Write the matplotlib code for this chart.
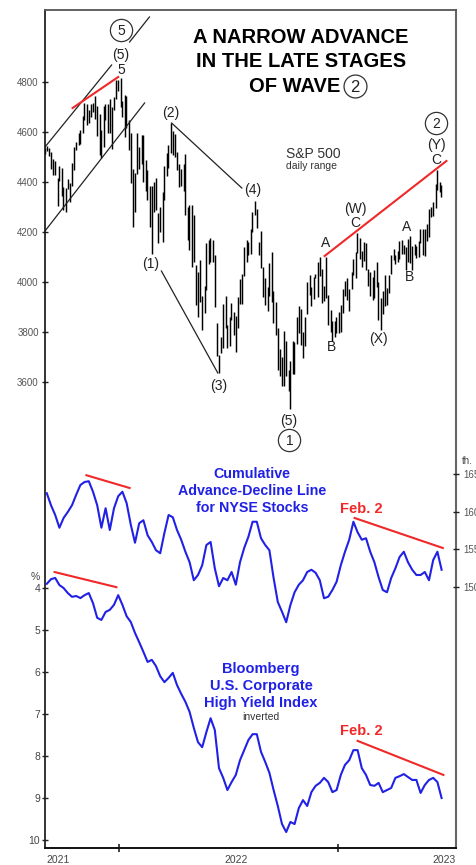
import numpy as np
import pandas as pd
import matplotlib
matplotlib.use('Agg')
import matplotlib.pyplot as plt
from matplotlib.lines import Line2D

plt.rcParams['font.family'] = ['Liberation Sans', 'DejaVu Sans']

# week starts (Mondays), Aug 30 2021 .. Jun 19 2023
weeks = pd.date_range('2021-08-30', '2023-06-19', freq='W-MON')

# S&P 500 daily range, two bars a week: a = Mon-Wed, b = Thu-Fri
spx_hi_a = [4537, 4536, 4492, 4416, 4457, 4375, 4397, 4540, 4598, 4665,
            4714, 4714, 4743, 4672, 4705, 4713, 4700, 4808, 4818, 4749,
            4650, 4453, 4595, 4590, 4490, 4385, 4402, 4277, 4360, 4517,
            4637, 4593, 4471, 4471, 4300, 4308, 4068, 4090, 3985, 4169,
            4168, 3838, 3780, 3946, 3862, 3880, 3941, 4032, 4167, 4213,
            4325, 4160, 4062, 3982, 4119, 3922, 3733, 3806, 3650, 3763,
            3862, 3894, 3860, 4028, 4020, 4080, 4052, 4101, 3890, 3846,
            3879, 3973, 4015, 4039, 4121, 4176, 4161, 4051, 4019, 4079,
            3937, 4027, 4030, 4134, 4125, 4169, 4140, 4186, 4153, 4166,
            4212, 4231, 4300, 4391, 4400]
spx_lo_a = [4513, 4506, 4428, 4305, 4346, 4279, 4322, 4447, 4549, 4595,
            4630, 4660, 4652, 4510, 4540, 4598, 4531, 4733, 4700, 4582,
            4528, 4222, 4433, 4472, 4364, 4221, 4279, 4157, 4161, 4425,
            4516, 4502, 4381, 4364, 4169, 4062, 3910, 3920, 3875, 4074,
            4080, 3705, 3715, 3818, 3743, 3788, 3818, 3911, 4079, 4112,
            4270, 4107, 3942, 3886, 3921, 3790, 3623, 3584, 3566, 3633,
            3753, 3750, 3744, 3950, 3933, 3941, 3918, 3935, 3800, 3780,
            3795, 3877, 3928, 3973, 4015, 4094, 4084, 3983, 3928, 3980,
            3808, 3906, 3957, 4087, 4079, 4112, 4049, 4075, 4107, 4101,
            4108, 4166, 4261, 4298, 4361]
spx_hi_b = [4545, 4521, 4485, 4465, 4382, 4412, 4475, 4559, 4608, 4718,
            4688, 4718, 4705, 4608, 4713, 4732, 4740, 4808, 4725, 4745,
            4596, 4438, 4540, 4590, 4450, 4385, 4417, 4299, 4465, 4547,
            4603, 4521, 4453, 4512, 4308, 4270, 4039, 3946, 4158, 4178,
            4110, 3707, 3913, 3830, 3918, 3865, 4013, 4140, 4162, 4280,
            4293, 4203, 4018, 4076, 3965, 3815, 3701, 3766, 3685, 3762,
            3905, 3802, 4001, 3980, 4034, 4101, 3985, 3947, 3846, 3859,
            3907, 4004, 3973, 4094, 4195, 4123, 4156, 4040, 4048, 4000,
            3965, 3975, 4110, 4108, 4164, 4148, 4171, 4143, 4143, 4213,
            4213, 4291, 4322, 4448, 4387]
spx_lo_b = [4524, 4453, 4427, 4406, 4288, 4372, 4383, 4528, 4553, 4650,
            4638, 4681, 4585, 4495, 4650, 4597, 4690, 4765, 4662, 4615,
            4395, 4279, 4451, 4401, 4327, 4114, 4290, 4200, 4328, 4455,
            4507, 4450, 4384, 4267, 4128, 4081, 3859, 3810, 3970, 4080,
            3900, 3636, 3738, 3738, 3850, 3721, 3911, 4026, 4107, 4200,
            4218, 4057, 3907, 3943, 3838, 3647, 3584, 3626, 3491, 3634,
            3797, 3698, 3873, 3906, 4015, 4026, 3923, 3828, 3764, 3797,
            3802, 3944, 3885, 4030, 4115, 4060, 4048, 3944, 3937, 3847,
            3874, 3909, 4033, 4072, 4091, 4114, 4080, 4048, 4098, 4157,
            4103, 4179, 4265, 4368, 4341]

# cumulative advance-decline line for NYSE stocks, weekly (thousands)
ad_line = [162.5, 160.9, 159.6, 157.9, 159.2, 160.0, 160.9, 162.3, 163.6, 164.0,
           164.1, 162.7, 160.9, 157.9, 160.5, 157.6, 160.5, 162.1, 162.7, 161.2,
           158.3, 155.9, 158.5, 158.9, 156.9, 156.0, 154.9, 154.5, 157.2, 159.6,
           159.3, 157.6, 156.3, 154.7, 153.3, 150.9, 151.6, 152.9, 155.6, 156.0,
           152.5, 150.1, 151.2, 150.9, 152.0, 150.3, 153.3, 155.2, 156.7, 158.7,
           158.7, 156.5, 155.6, 154.9, 151.2, 148.0, 146.7, 145.3, 147.6, 149.3,
           150.3, 150.9, 152.0, 152.3, 151.9, 150.9, 148.5, 148.7, 149.6, 150.7,
           152.9, 154.7, 156.3, 158.7, 157.3, 156.3, 156.5, 154.7, 153.3, 151.3,
           149.6, 149.3, 151.2, 152.5, 154.0, 154.7, 153.3, 152.3, 151.6, 151.6,
           152.0, 150.9, 153.6, 154.7, 152.3]

# Bloomberg U.S. corporate high yield index, weekly yield (%)
hy_yield = [3.90, 3.79, 3.76, 3.93, 4.00, 4.12, 4.21, 4.19, 4.24, 4.17,
            4.12, 4.36, 4.71, 4.76, 4.57, 4.52, 4.40, 4.17, 4.40, 4.67,
            4.81, 5.07, 5.29, 5.52, 5.76, 5.71, 5.86, 6.10, 6.24, 6.14,
            6.02, 6.31, 6.52, 6.71, 6.95, 7.33, 7.67, 7.79, 7.43, 7.10,
            7.38, 8.29, 8.52, 8.81, 8.62, 8.45, 8.10, 7.86, 7.62, 7.48,
            7.48, 7.90, 8.14, 8.40, 8.81, 9.19, 9.62, 9.81, 9.57, 9.62,
            9.24, 9.05, 9.19, 8.86, 8.71, 8.64, 8.52, 8.62, 8.86, 8.81,
            8.45, 8.21, 8.10, 7.86, 7.86, 8.29, 8.45, 8.69, 8.71, 8.64,
            8.86, 8.81, 8.76, 8.52, 8.48, 8.43, 8.50, 8.57, 8.57, 8.88,
            8.69, 8.57, 8.52, 8.62, 9.00]

# trend lines: (date, level)
upper_chan_1 = [('2021-08-31', 4540), ('2021-12-20', 4868)]
upper_chan_2 = [('2022-01-19', 4960), ('2022-02-21', 5060)]
lower_chan = [('2021-08-31', 4204), ('2022-02-13', 4716)]
line_2_4 = [('2022-03-30', 4636), ('2022-07-25', 4376)]
line_1_3 = [('2022-03-13', 4044), ('2022-06-15', 3636)]
red_top = [('2021-10-16', 4696), ('2021-12-31', 4820)]
red_right = [('2022-12-10', 4104), ('2023-07-01', 4484)]
ad_red_left = [('2021-11-08', 164.9), ('2022-01-19', 163.2)]
ad_red_right = [('2023-01-29', 159.2), ('2023-06-25', 155.2)]
hy_red_left = [('2021-09-16', 3.62), ('2021-12-28', 3.98)]
hy_red_right = [('2023-02-03', 7.64), ('2023-06-26', 8.45)]

BLUE = '#2121e6'
RED = '#f02828'
W, H = 477, 865

fig = plt.figure(figsize=(W / 100, H / 100), dpi=100)
ax = fig.add_axes([45 / W, 1 - 848 / H, 411 / W, 838 / H])
ax.set_xlim(pd.Timestamp('2021-08-31'), pd.Timestamp('2023-07-17'))
ax.set_ylim(1736, 5088)

ax_ad = ax.twinx()
ax_ad.set_ylim(115.2, 226.93)
ax_hy = ax.twinx()
ax_hy.set_ylim(10.19, -9.762)
ax_hy.yaxis.tick_left()


def seg(axis, pts, **kw):
    xs = pd.to_datetime([p[0] for p in pts])
    axis.plot(xs, [p[1] for p in pts], **kw)


# S&P daily range bars
xa = weeks + pd.Timedelta(days=1)
xb = weeks + pd.Timedelta(days=3.5)
ax.vlines(xa, spx_lo_a, spx_hi_a, color='black', lw=1.05)
ax.vlines(xb, spx_lo_b, spx_hi_b, color='black', lw=1.05)

blk = dict(color='#222222', lw=0.9)
seg(ax, upper_chan_1, **blk)
seg(ax, upper_chan_2, **blk)
seg(ax, lower_chan, **blk)
seg(ax, line_2_4, **blk)
seg(ax, line_1_3, **blk)
seg(ax, red_top, color=RED, lw=1.5)
seg(ax, red_right, color=RED, lw=1.5)

fri = weeks + pd.Timedelta(days=4)
ax_ad.plot(fri, ad_line, color=BLUE, lw=1.5)
seg(ax_ad, ad_red_left, color=RED, lw=1.5)
seg(ax_ad, ad_red_right, color=RED, lw=1.5)

ax_hy.plot(fri, hy_yield, color=BLUE, lw=1.5)
seg(ax_hy, hy_red_left, color=RED, lw=1.5)
seg(ax_hy, hy_red_right, color=RED, lw=1.5)

# axes styling
ax.spines['left'].set_color('#111111')
ax.spines['left'].set_linewidth(1.2)
ax.spines['bottom'].set_color('#111111')
ax.spines['bottom'].set_linewidth(1.4)
ax.spines['top'].set_color('#555555')
ax.spines['top'].set_linewidth(1.3)
ax.spines['right'].set_color('#666666')
ax.spines['right'].set_linewidth(1.5)
for a in (ax_ad, ax_hy):
    for s in a.spines.values():
        s.set_visible(False)

ax.set_xticks([pd.Timestamp('2022-01-01'), pd.Timestamp('2023-01-01')])
ax.set_xticklabels(['', ''])
ax.tick_params(axis='x', direction='inout', length=6, width=1.2, color='#222222')

ax.set_yticks(range(3600, 4801, 200))
ax.tick_params(axis='y', direction='inout', length=5, width=1, color='#222222',
               labelsize=7, labelcolor='#555555', pad=2)

ax_ad.set_yticks([150, 155, 160, 165])
ax_ad.tick_params(axis='y', direction='inout', length=5, width=1, color='#222222',
                  labelsize=7, labelcolor='#555555', pad=2.5)

ax_hy.set_yticks(range(4, 11))
ax_hy.tick_params(axis='y', direction='inout', length=5, width=1, color='#222222',
                  labelsize=7.5, labelcolor='#444444', pad=1)


def tx(x, y, s, **kw):
    fig.text(x / W, 1 - y / H, s, **kw)


def circled(x, y, s, ms=16, fs=10):
    fig.add_artist(Line2D([x / W], [1 - y / H], transform=fig.transFigure, marker='o',
                          ms=ms, mfc='white', mec='#333333', mew=0.9, ls='none'))
    tx(x, y + 1, s, ha='center', va='center', fontsize=fs, color='#222222')


# title
tx(301, 43, 'A NARROW ADVANCE', ha='center', va='baseline', fontsize=14.5, fontweight='bold')
tx(301, 67, 'IN THE LATE STAGES', ha='center', va='baseline', fontsize=14.5, fontweight='bold')
tx(340, 92, 'OF WAVE', ha='right', va='baseline', fontsize=14.5, fontweight='bold')
circled(355, 86, '2', ms=16.5, fs=12)

tx(313, 158, 'S&P 500', ha='center', va='baseline', fontsize=10, color='#333333')
tx(312, 169, 'daily range', ha='center', va='baseline', fontsize=7.5, color='#333333')

# wave labels
lab = dict(ha='center', va='center', fontsize=10, color='#222222')
circled(121, 30, '5')
tx(121, 54.5, '(5)', **lab)
tx(121, 70, '5', **lab)
tx(171, 113.5, '(2)', **lab)
tx(151, 264, '(1)', **lab)
tx(219, 386, '(3)', **lab)
tx(253, 190, '(4)', **lab)
tx(289, 421, '(5)', **lab)
circled(289.5, 440, '1')
tx(325.5, 243, 'A', **lab)
tx(332, 347, 'B', **lab)
tx(355, 209, '(W)', **lab)
tx(355, 223, 'C', **lab)
tx(378, 339, '(X)', **lab)
tx(407, 227, 'A', **lab)
tx(410, 277, 'B', **lab)
tx(436, 160, 'C', **lab)
tx(436, 145, '(Y)', **lab)
circled(436, 123, '2')

# panel labels
tx(252, 478, 'Cumulative', ha='center', va='baseline', fontsize=10.3, fontweight='bold', color=BLUE)
tx(252, 495, 'Advance-Decline Line', ha='center', va='baseline', fontsize=10.3, fontweight='bold', color=BLUE)
tx(252, 512, 'for NYSE Stocks', ha='center', va='baseline', fontsize=10.3, fontweight='bold', color=BLUE)
tx(361, 513, 'Feb. 2', ha='center', va='baseline', fontsize=10.5, fontweight='bold', color=RED)

tx(261, 673, 'Bloomberg', ha='center', va='baseline', fontsize=10.5, fontweight='bold', color=BLUE)
tx(261, 690, 'U.S. Corporate', ha='center', va='baseline', fontsize=10.5, fontweight='bold', color=BLUE)
tx(261, 707, 'High Yield Index', ha='center', va='baseline', fontsize=10.5, fontweight='bold', color=BLUE)
tx(261, 720, 'inverted', ha='center', va='baseline', fontsize=7.5, color='#333333')
tx(361, 735, 'Feb. 2', ha='center', va='baseline', fontsize=10.5, fontweight='bold', color=RED)

tx(462, 461, 'th.', ha='left', va='center', fontsize=7, color='#444444')
tx(35, 577, '%', ha='center', va='center', fontsize=7.5, color='#444444')

for xp, yr in [(58, '2021'), (236, '2022'), (444, '2023')]:
    tx(xp, 860, yr, ha='center', va='center', fontsize=7.5, color='#444444')

fig.savefig('out.png', dpi=100)
